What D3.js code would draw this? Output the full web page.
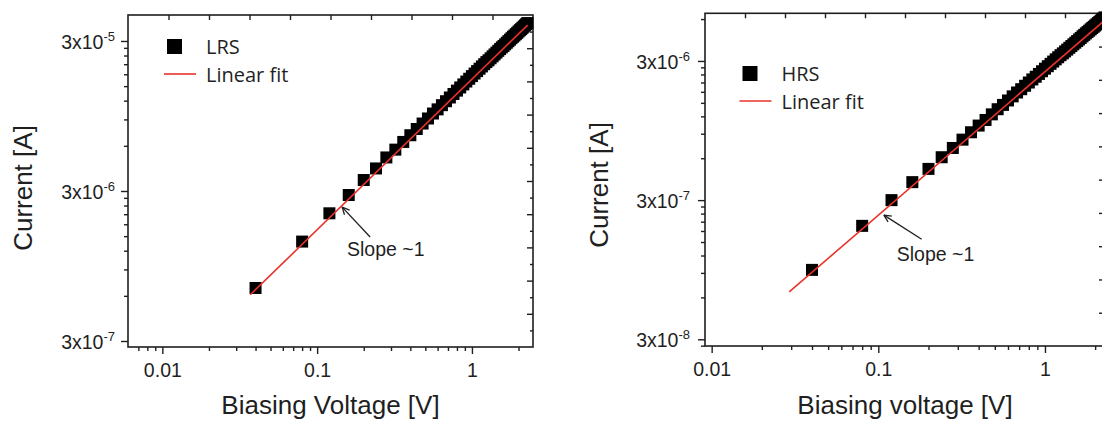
<!DOCTYPE html>
<html>
<head>
<meta charset="utf-8">
<script src="https://cdn.jsdelivr.net/npm/d3@7"></script>
<style>
  html, body { margin: 0; padding: 0; background: #ffffff; }
  svg { display: block; }
</style>
</head>
<body>
<svg id="chart" width="1102" height="421"></svg>
<script>
// Biasing voltage sweep (V), shared by both resistance states
const biasVoltage = [
  0.04, 0.08, 0.12, 0.16, 0.20, 0.24, 0.28, 0.32, 0.36, 0.40,
  0.44, 0.48, 0.52, 0.56, 0.60, 0.64, 0.68, 0.72, 0.76, 0.80,
  0.84, 0.88, 0.92, 0.96, 1.00, 1.04, 1.08, 1.12, 1.16, 1.20,
  1.24, 1.28, 1.32, 1.36, 1.40, 1.44, 1.48, 1.52, 1.56, 1.60,
  1.64, 1.68, 1.72, 1.76, 1.80, 1.84, 1.88, 1.92, 1.96, 2.00,
  2.04, 2.08, 2.12, 2.16, 2.20, 2.24, 2.28
];

// Low resistance state current (A)
const lrsCurrent = [
  6.77e-7, 1.38e-6, 2.13e-6, 2.82e-6, 3.55e-6, 4.24e-6, 5.02e-6, 5.66e-6, 6.37e-6, 7.06e-6,
  7.77e-6, 8.45e-6, 9.13e-6, 9.85e-6, 1.05e-5, 1.12e-5, 1.19e-5, 1.26e-5, 1.33e-5, 1.40e-5,
  1.47e-5, 1.54e-5, 1.61e-5, 1.68e-5, 1.75e-5, 1.82e-5, 1.89e-5, 1.96e-5, 2.03e-5, 2.10e-5,
  2.17e-5, 2.23e-5, 2.30e-5, 2.37e-5, 2.44e-5, 2.51e-5, 2.58e-5, 2.65e-5, 2.72e-5, 2.78e-5,
  2.85e-5, 2.92e-5, 2.99e-5, 3.06e-5, 3.13e-5, 3.20e-5, 3.26e-5, 3.33e-5, 3.40e-5, 3.47e-5,
  3.54e-5, 3.60e-5, 3.67e-5, 3.74e-5, 3.81e-5, 3.88e-5, 3.95e-5
];

// High resistance state current (A)
const hrsCurrent = [
  9.46e-8, 1.96e-7, 3.00e-7, 4.04e-7, 5.03e-7, 6.10e-7, 7.11e-7, 8.16e-7, 9.22e-7, 1.03e-6,
  1.13e-6, 1.24e-6, 1.35e-6, 1.45e-6, 1.56e-6, 1.67e-6, 1.78e-6, 1.88e-6, 1.99e-6, 2.10e-6,
  2.21e-6, 2.31e-6, 2.42e-6, 2.53e-6, 2.64e-6, 2.75e-6, 2.86e-6, 2.97e-6, 3.08e-6, 3.19e-6,
  3.30e-6, 3.40e-6, 3.51e-6, 3.62e-6, 3.73e-6, 3.84e-6, 3.95e-6, 4.06e-6, 4.17e-6, 4.28e-6,
  4.39e-6, 4.51e-6, 4.62e-6, 4.73e-6, 4.84e-6, 4.95e-6, 5.06e-6, 5.17e-6, 5.28e-6, 5.39e-6,
  5.50e-6, 5.61e-6, 5.72e-6, 5.84e-6, 5.95e-6, 6.06e-6, 6.17e-6
];

// Linear fits (log-log), given by their end points [V, I]
const lrsFit = [[0.037, 6.1e-7], [2.29, 3.83e-5]];
const hrsFit = [[0.0292, 6.57e-8], [2.29, 5.9e-6]];

// Axis ticks and labels
const xMajorTicks = [0.01, 0.1, 1];
const xTickLabels = ["0.01", "0.1", "1"];
const lrsYMajorTicks = [3e-7, 3e-6, 3e-5];
const lrsYTickLabels = [["3x10", "-7"], ["3x10", "-6"], ["3x10", "-5"]];
const hrsYMajorTicks = [3e-8, 3e-7, 3e-6];
const hrsYTickLabels = [["3x10", "-8"], ["3x10", "-7"], ["3x10", "-6"]];

// Slope annotations: [text position, arrow tail, arrow head] in data units
const lrsNote = { text: [0.156, 1.11e-6], tail: [0.22, 1.48e-6], head: [0.145, 2.34e-6] };
const hrsNote = { text: [0.129, 1.09e-7], tail: [0.182, 1.57e-7], head: [0.108, 2.34e-7] };

const svg = d3.select("#chart");
const INK = "#1f1f1f";
const FIT_RED = "#e8322b";
const AXIS_FONT = "'Liberation Sans', Arial, sans-serif";
const LEGEND_FONT = "'Open Sans', 'Liberation Sans', sans-serif";

// minor ticks: k * (lower major) for k = 2..9, inside the domain
function minorTicks(majors, step, domain) {
  const out = [];
  const lo = Math.min(...domain), hi = Math.max(...domain);
  const starts = [majors[0] / step].concat(majors);
  starts.forEach(m => {
    for (let k = 2; k <= 9; k++) {
      const v = m * k;
      if (v > lo && v < hi && !majors.some(t => Math.abs(t - v) / t < 1e-6)) out.push(v);
    }
  });
  return out;
}

function drawPanel(cfg) {
  const x = d3.scaleLog().domain(cfg.xDomain).range([cfg.left, cfg.right]);
  const y = d3.scaleLog().domain(cfg.yDomain).range([cfg.bottom, cfg.top]);
  const g = svg.append("g");

  const styleAxis = sel => {
    sel.select(".domain").remove();
    sel.selectAll("line").attr("stroke", INK).attr("stroke-width", 1.4);
  };

  // bottom axis: minor + major ticks
  g.append("g").attr("transform", `translate(0,${cfg.bottom})`)
    .call(d3.axisBottom(x).tickValues(minorTicks(xMajorTicks, 10, cfg.xDomain)).tickSize(4).tickFormat(""))
    .call(styleAxis);
  const xAx = g.append("g").attr("transform", `translate(0,${cfg.bottom})`)
    .call(d3.axisBottom(x).tickValues(xMajorTicks).tickSize(7).tickPadding(9)
      .tickFormat((d, i) => xTickLabels[i]))
    .call(styleAxis);
  xAx.selectAll("text").attr("font-family", AXIS_FONT).attr("font-size", 19.5).attr("fill", INK);

  // left axis: minor + major ticks with superscript labels
  g.append("g").attr("transform", `translate(${cfg.left},0)`)
    .call(d3.axisLeft(y).tickValues(minorTicks(cfg.yMajors, 10, cfg.yDomain)).tickSize(4).tickFormat(""))
    .call(styleAxis);
  const yAx = g.append("g").attr("transform", `translate(${cfg.left},0)`)
    .call(d3.axisLeft(y).tickValues(cfg.yMajors).tickSize(7).tickFormat(""))
    .call(styleAxis);
  yAx.selectAll(".tick text").remove();
  yAx.selectAll(".tick").each(function (d, i) {
    const t = d3.select(this).append("text")
      .attr("x", -cfg.labelGap).attr("y", 7.5)
      .attr("text-anchor", "end")
      .attr("font-family", AXIS_FONT).attr("fill", INK);
    t.append("tspan").attr("font-size", 19.5).text(cfg.yLabels[i][0]);
    t.append("tspan").attr("font-size", 13).attr("dy", -8).text(cfg.yLabels[i][1]);
  });

  // top and right axes: evenly divided, ticks pointing inward
  const topScale = d3.scaleLinear().domain([0, 10]).range([cfg.left, cfg.right]);
  g.append("g").attr("transform", `translate(0,${cfg.top})`)
    .call(d3.axisTop(topScale).tickValues(d3.range(1, 10)).tickSize(-5).tickFormat(""))
    .call(styleAxis);
  const rightScale = d3.scaleLinear().domain([0, 20]).range([cfg.bottom, cfg.top]);
  g.append("g").attr("transform", `translate(${cfg.right},0)`)
    .call(d3.axisRight(rightScale).tickValues(d3.range(2, 20, 2)).tickSize(-6).tickFormat(""))
    .call(styleAxis);
  g.append("g").attr("transform", `translate(${cfg.right},0)`)
    .call(d3.axisRight(rightScale).tickValues(d3.range(1, 20, 2)).tickSize(-3).tickFormat(""))
    .call(styleAxis);

  // frame
  g.append("rect")
    .attr("x", cfg.left).attr("y", cfg.top)
    .attr("width", cfg.right - cfg.left).attr("height", cfg.bottom - cfg.top)
    .attr("fill", "none").attr("stroke", INK).attr("stroke-width", 1.6);

  // measured points
  const sq = 12;
  g.append("g").selectAll("rect")
    .data(biasVoltage.map((v, i) => [v, cfg.current[i]]))
    .join("rect")
    .attr("x", d => x(d[0]) - sq / 2).attr("y", d => y(d[1]) - sq / 2)
    .attr("width", sq).attr("height", sq)
    .attr("fill", "#000");

  // linear fit
  g.append("path")
    .attr("d", d3.line().x(d => x(d[0])).y(d => y(d[1]))(cfg.fit))
    .attr("fill", "none").attr("stroke", FIT_RED).attr("stroke-width", 1.6);

  // legend
  const lg = cfg.legend;
  g.append("rect")
    .attr("x", lg.x).attr("y", lg.y).attr("width", 15).attr("height", 15).attr("fill", "#000");
  g.append("text").attr("x", lg.x + 39).attr("y", lg.y + 14.5)
    .attr("font-family", LEGEND_FONT).attr("font-size", 20).attr("fill", INK).text(cfg.name);
  g.append("line")
    .attr("x1", lg.x - 3).attr("x2", lg.x + 29).attr("y1", lg.y + 35).attr("y2", lg.y + 35)
    .attr("stroke", FIT_RED).attr("stroke-width", 1.6);
  g.append("text").attr("x", lg.x + 39).attr("y", lg.y + 42.5)
    .attr("font-family", LEGEND_FONT).attr("font-size", 20).attr("fill", INK).text("Linear fit");

  // slope annotation with arrow
  const n = cfg.note;
  const tx = x(n.tail[0]), ty = y(n.tail[1]);
  const hx = x(n.head[0]), hy = y(n.head[1]);
  g.append("line").attr("x1", tx).attr("y1", ty).attr("x2", hx).attr("y2", hy)
    .attr("stroke", INK).attr("stroke-width", 1.3);
  const ang = Math.atan2(ty - hy, tx - hx);
  [-0.45, 0.45].forEach(da => {
    g.append("line")
      .attr("x1", hx).attr("y1", hy)
      .attr("x2", hx + 8 * Math.cos(ang + da)).attr("y2", hy + 8 * Math.sin(ang + da))
      .attr("stroke", INK).attr("stroke-width", 1.3);
  });
  g.append("text").attr("x", x(n.text[0])).attr("y", y(n.text[1]))
    .attr("font-family", AXIS_FONT).attr("font-size", 19.5).attr("fill", INK).text("Slope ~1");

  // axis titles
  g.append("text")
    .attr("x", (cfg.left + cfg.right) / 2).attr("y", 414)
    .attr("text-anchor", "middle")
    .attr("font-family", AXIS_FONT).attr("font-size", 26).attr("fill", INK)
    .text(cfg.xTitle);
  g.append("text")
    .attr("transform", `translate(${cfg.yTitleX},${cfg.yTitleY}) rotate(-90)`)
    .attr("text-anchor", "middle")
    .attr("font-family", AXIS_FONT).attr("font-size", 26).attr("fill", INK)
    .text("Current [A]");
}

drawPanel({
  name: "LRS",
  left: 128, right: 533, top: 15, bottom: 347,
  xDomain: [0.006, 2.48], yDomain: [2.736e-7, 4.47e-5],
  yMajors: lrsYMajorTicks, yLabels: lrsYTickLabels, labelGap: 13,
  current: lrsCurrent, fit: lrsFit, note: lrsNote,
  legend: { x: 167, y: 39 },
  xTitle: "Biasing Voltage [V]", yTitleX: 32, yTitleY: 188
});

drawPanel({
  name: "HRS",
  left: 705, right: 1105, top: 13.3, bottom: 346,
  xDomain: [0.00912, 2.292], yDomain: [2.685e-8, 6.6e-6],
  yMajors: hrsYMajorTicks, yLabels: hrsYTickLabels, labelGap: 15,
  current: hrsCurrent, fit: hrsFit, note: hrsNote,
  legend: { x: 742.5, y: 66 },
  xTitle: "Biasing voltage [V]", yTitleX: 608, yTitleY: 185
});
</script>
</body>
</html>
